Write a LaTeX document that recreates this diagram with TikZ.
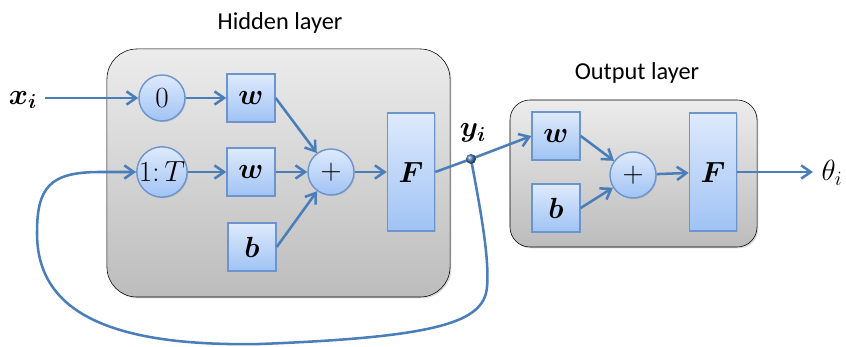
\documentclass[tikz,border=0pt]{standalone}
\usepackage{bm}
\usepackage{fontspec}
\newfontfamily\titlefont{Carlito}
\usetikzlibrary{arrows.meta, shadows}

\definecolor{lineblue}{RGB}{74,126,187}
\definecolor{celltop}{RGB}{222,234,252}
\definecolor{cellbottom}{RGB}{160,195,244}
\definecolor{celledge}{RGB}{108,148,206}
\definecolor{layertop}{RGB}{236,236,236}
\definecolor{layerbottom}{RGB}{188,188,188}

\begin{document}
\begin{tikzpicture}[x=0.025cm, y=0.025cm,
    layer/.style={draw=black, thin, rounded corners=0.75cm, top color=layertop, bottom color=layerbottom,
      drop shadow={opacity=0.3, shadow xshift=1pt, shadow yshift=-1pt}},
    cell/.style={draw=celledge, line width=1pt, top color=celltop, bottom color=cellbottom, inner sep=0pt,
      drop shadow={opacity=0.25, shadow xshift=0.8pt, shadow yshift=-0.8pt}, font=\fontsize{22}{26}\selectfont},
    sq/.style={cell, minimum width=1.2cm, minimum height=1.2cm},
    op/.style={cell, circle, minimum size=1.15cm, font=\fontsize{20}{24}\selectfont},
    act/.style={cell, minimum width=1.18cm, minimum height=2.95cm},
    link/.style={draw=lineblue, line width=1.8pt, -{Straight Barb[length=2.4mm, width=3.3mm]}},
    title/.style={font=\titlefont\fontsize{17.3}{20}\selectfont},
    lab/.style={font=\fontsize{22}{26}\selectfont}]
  \useasboundingbox (0,0) rectangle (846,347);

  % layers
  \node[layer, minimum width=8.575cm, minimum height=6.2cm] (hidden) at (278.5,174) {};
  \node[layer, rounded corners=0.5cm, minimum width=6.175cm, minimum height=3.675cm] (output) at (633.5,173.5) {};
  \node[title] (htitle) at (280,324) {Hidden layer};
  \node[title] (otitle) at (637,274) {Output layer};

  % hidden layer
  \node[op] (zero) at (162,249) {$0$};
  \node[op] (range) at (162,175) {$1\colon T$};
  \node[sq] (w1) at (251,249) {$\bm{w}$};
  \node[sq] (w2) at (251,175) {$\bm{w}$};
  \node[sq] (b1) at (252,100) {$\bm{b}$};
  \node[op] (sum1) at (331,175) {$+$};
  \node[act] (F1) at (411,175) {$\bm{F}$};

  % output layer
  \node[sq] (wo) at (556,211) {$\bm{w}$};
  \node[sq] (bo) at (556,139) {$\bm{b}$};
  \node[op] (sumo) at (633,172) {$+$};
  \node[act] (Fo) at (713,175) {$\bm{F}$};

  % labels
  \node[lab] (xlab) at (23,247) {$\bm{x_i}$};
  \node[lab] (ylab) at (473,214) {$\bm{y_i}$};
  \node[lab, font=\fontsize{20}{24}\selectfont] (thlab) at (832,174) {$\theta_i$};
  \coordinate (xin) at (45,249);
  \coordinate (thout) at (813,175);
  \coordinate (dot) at (471,188);

  \draw[link] (xin) -- (zero);
  \draw[link] (zero) -- (w1);
  \draw[link] (range) -- (w2);
  \draw[link] (w1.east) -- (sum1);
  \draw[link] (w2) -- (sum1);
  \draw[link] (b1.east) -- (sum1);
  \draw[link] (sum1) -- (F1);
  \draw[link] (F1.east) -- (dot) -- (wo.west);
  \draw[link] (wo.east) -- (sumo);
  \draw[link] (bo.east) -- (sumo);
  \draw[link] (sumo) -- (Fo);
  \draw[link] (Fo.east) -- (thout);

  % feedback
  \draw[link] (dot) .. controls (478,150) and (490,90) .. (487,60)
    .. controls (484,25) and (440,10) .. (260,3)
    .. controls (100,0) and (37,40) .. (37,114)
    .. controls (37,160) and (50,175) .. (100,175) -- (range);
  \shade[ball color=lineblue] (dot) circle (5);
\end{tikzpicture}
\end{document}
